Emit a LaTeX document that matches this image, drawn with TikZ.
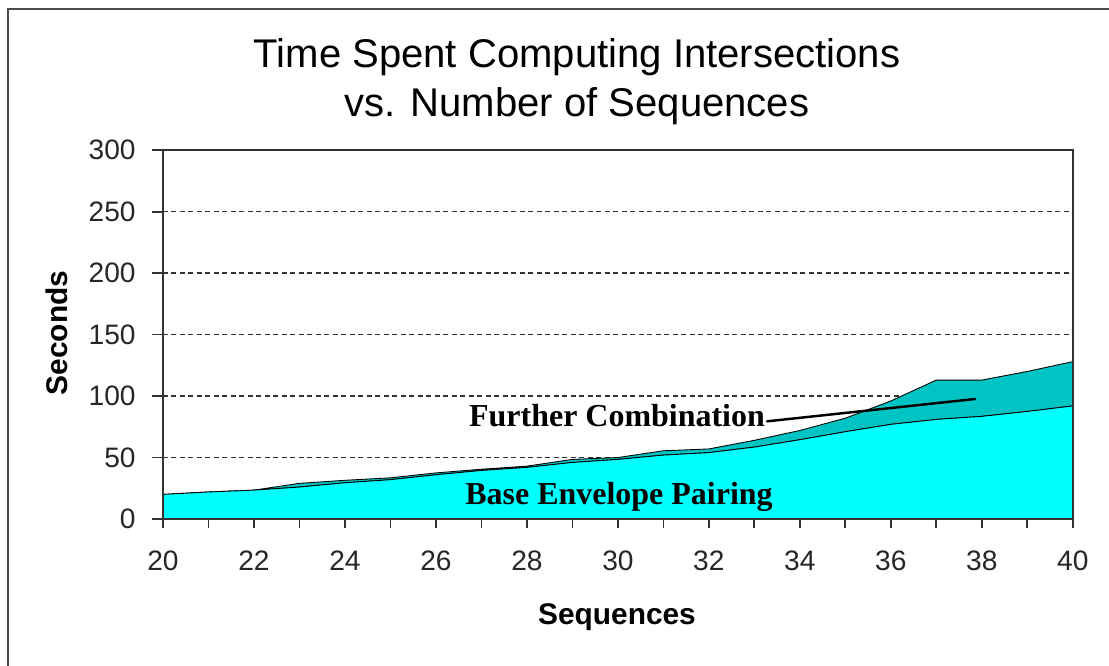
\documentclass[tikz,border=0pt]{standalone}
\usepackage{fontspec}
\setmainfont{Liberation Serif}
\setsansfont{Liberation Sans}
\usetikzlibrary{positioning}

\definecolor{baseCyan}{RGB}{0,255,255}
\definecolor{furtherTeal}{RGB}{0,196,196}

\tikzset{
    titlelab/.style={
        font=\sffamily\fontsize{22.8}{26}\selectfont,
        inner sep=0pt
    },
    ticklab/.style={
        font=\sffamily\fontsize{16}{18}\selectfont,
        text=black!85,
        inner sep=0pt
    },
    axislab/.style={
        font=\sffamily\bfseries\fontsize{17}{19}\selectfont,
        inner sep=0pt
    },
    arealab/.style={
        font=\rmfamily\bfseries\fontsize{18.2}{20}\selectfont,
        inner sep=1pt
    },
    base area/.style={
        fill=baseCyan,
        draw=black,
        line width=.5pt
    },
    further area/.style={
        base area,
        fill=furtherTeal
    },
    gridline/.style={
        black!80,
        line width=.9pt,
        dash pattern=on .1cm off .07cm
    },
    axisline/.style={
        black!80,
        line width=1pt
    },
    leader/.style={
        line width=1.4pt,
        line cap=round
    }
}

\begin{document}
\begin{tikzpicture}[x=0.02cm, y=0.02cm]
    \useasboundingbox (0,0) rectangle (1109,666);

    % Rahmen des Diagramms
    \draw[black!70, line width=1.2pt] (8,0) -- (8,657) -- (1109,657);

    % Titel
    \path
        node[titlelab, anchor=base] at (577,598) (title)  {Time Spent Computing Intersections}
        node[titlelab, anchor=base] at (577,549) (title2) {vs. Number of Sequences};

    \begin{scope}[xshift=-14.94cm, yshift=2.94cm, x=0.91cm, y=0.0246cm]
        % Gitterlinien
        \foreach \v in {50,100,...,250}
            \draw[gridline] (20,\v) -- (40,\v);

        % Flaechen
        \filldraw[further area]
            (20,20) -- (21,22) -- (22,23.5) -- (23,29) -- (24,31.5) -- (25,33.5)
            -- (26,37.5) -- (27,40.5) -- (28,43) -- (29,48.5) -- (30,50)
            -- (31,55.5) -- (32,57) -- (33,64) -- (34,72) -- (35,82) -- (36,96)
            -- (37,113) -- (38,113) -- (39,120) -- (40,128)
            -- (40,92) -- (39,87.5) -- (38,83.5) -- (37,81) -- (36,77) -- (35,71)
            -- (34,64.5) -- (33,58.5) -- (32,54) -- (31,52) -- (30,48.5)
            -- (29,46) -- (28,42) -- (27,39.5) -- (26,36) -- (25,32) -- (24,29.5)
            -- (23,26) -- (22,23.5) -- (21,22) -- cycle;
        \filldraw[base area]
            (20,0) -- (20,20) -- (21,22) -- (22,23.5) -- (23,26) -- (24,29.5)
            -- (25,32) -- (26,36) -- (27,39.5) -- (28,42) -- (29,46) -- (30,48.5)
            -- (31,52) -- (32,54) -- (33,58.5) -- (34,64.5) -- (35,71) -- (36,77)
            -- (37,81) -- (38,83.5) -- (39,87.5) -- (40,92) -- (40,0) -- cycle;

        % Achsen und Striche
        \draw[axisline] (20,0) rectangle (40,300);
        \foreach \v in {0,50,...,300}
            \draw[axisline] (20,\v) -- ++(-0.22cm,0);
        \foreach \s in {20,...,40}
            \draw[axisline] (\s,0) -- ++(0,-0.18cm);

        % Beschriftung der Achsen
        \foreach \v in {0,50,...,300}
            \node[ticklab, anchor=east] (yl\v) at ([xshift=-0.54cm]20,\v) {\v};
        \foreach \s in {20,22,...,40}
            \node[ticklab] (xl\s) at ([yshift=-0.84cm]\s,0) {\s};
    \end{scope}

    % Achsentitel
    \path
        node[axislab, rotate=90]  at (57,333) (ylab) {Seconds}
        node[axislab, anchor=base] at (617,41) (xlab) {Sequences};

    % Flaechenbeschriftung
    \path
        node[arealab, anchor=base] at (617,239) (further) {Further Combination}
        node[arealab, anchor=base] at (619,161) (base)    {Base Envelope Pairing};
    \coordinate (pt) at (975,267);

    \path[leader] (further.-2) edge (pt);
\end{tikzpicture}
\end{document}
